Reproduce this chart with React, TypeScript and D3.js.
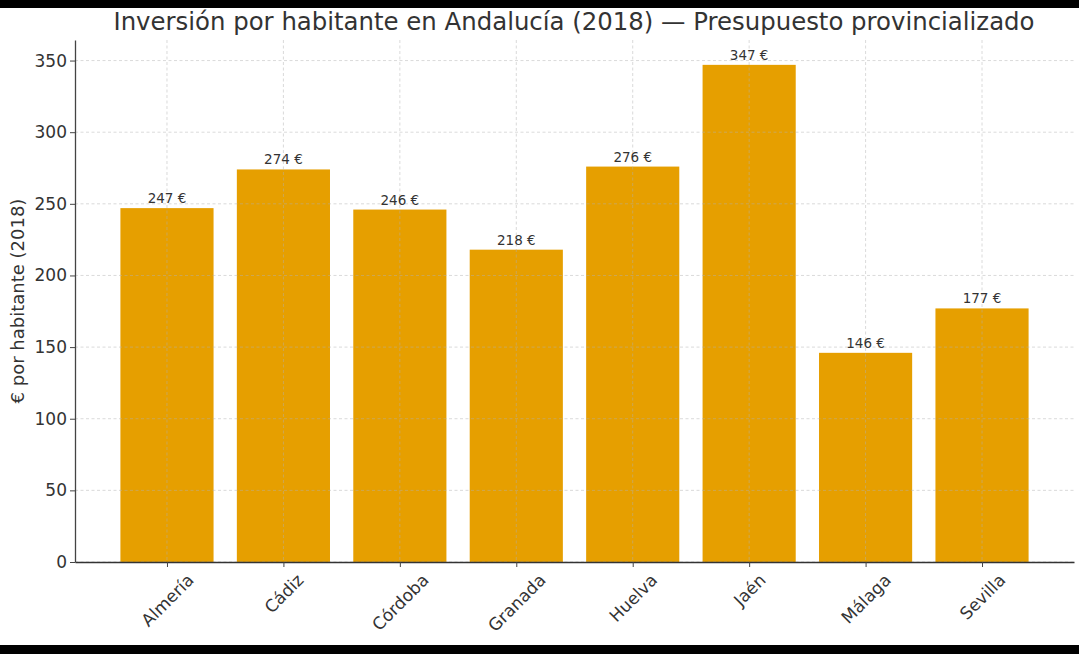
import React, { useEffect, useRef } from 'react'
import * as d3 from 'd3'

const provincias = ['Almería', 'Cádiz', 'Córdoba', 'Granada', 'Huelva', 'Jaén', 'Málaga', 'Sevilla']
const inversion = [247, 274, 246, 218, 276, 347, 146, 177]
const yTicks = [0, 50, 100, 150, 200, 250, 300, 350]

const titulo = 'Inversión por habitante en Andalucía (2018) — Presupuesto provincializado'
const etiquetaY = '€ por habitante (2018)'

const App = () => {
	const ref = useRef<SVGSVGElement>(null)

	const width = 1079
	const height = 654
	const marginTop = 40
	const marginRight = 5
	const marginBottom = 92
	const marginLeft = 75
	const font = 'DejaVu Sans, sans-serif'
	const barColor = '#e69f00'
	const textColor = '#333333'

	useEffect(() => {
		if (!ref.current) return
		const svg = d3.select(ref.current)
		svg.selectAll('*').remove()

		svg.append('rect').attr('width', width).attr('height', height).attr('fill', '#fff')
		svg.append('rect').attr('width', width).attr('height', 8).attr('fill', '#000')
		svg.append('rect').attr('y', 645).attr('width', width).attr('height', height - 645).attr('fill', '#000')

		const idx = provincias.map((_, i) => i)
		// matplotlib style: bars of width 0.8 with 5% margins
		const x = d3
			.scaleLinear()
			.domain([-0.79, provincias.length - 1 + 0.79])
			.range([marginLeft, width - marginRight])
		const y = d3
			.scaleLinear()
			.domain([0, d3.max(inversion) * 1.05])
			.range([height - marginBottom, marginTop])

		const bw = x(0.4) - x(-0.4)

		// barras
		svg
			.append('g')
			.selectAll('rect')
			.data(idx)
			.join('rect')
			.attr('x', i => x(i) - bw / 2)
			.attr('y', i => y(inversion[i]))
			.attr('width', bw)
			.attr('height', i => y(0) - y(inversion[i]))
			.attr('fill', barColor)

		// rejilla (por encima de las barras)
		const grid = svg.append('g').attr('stroke', '#b0b0b0').attr('stroke-opacity', 0.6).attr('stroke-dasharray', '3,2.5').attr('stroke-width', 0.8)
		grid
			.selectAll('line.h')
			.data(yTicks)
			.join('line')
			.attr('class', 'h')
			.attr('x1', marginLeft)
			.attr('x2', width - marginRight)
			.attr('y1', d => y(d))
			.attr('y2', d => y(d))
		grid
			.selectAll('line.v')
			.data(idx)
			.join('line')
			.attr('class', 'v')
			.attr('x1', i => x(i))
			.attr('x2', i => x(i))
			.attr('y1', marginTop)
			.attr('y2', height - marginBottom)

		// etiquetas de valor
		svg
			.append('g')
			.selectAll('text')
			.data(idx)
			.join('text')
			.attr('x', i => x(i))
			.attr('y', i => y(inversion[i]) - 5)
			.attr('text-anchor', 'middle')
			.attr('font-family', font)
			.attr('font-size', 13.5)
			.attr('fill', textColor)
			.text(i => `${inversion[i]} €`)

		// eje y
		const yAxis = svg
			.append('g')
			.attr('transform', `translate(${marginLeft},0)`)
			.call(d3.axisLeft(y).tickValues(yTicks).tickSize(5).tickPadding(3).tickSizeOuter(0))
		yAxis.select('.domain').attr('stroke', '#444').attr('stroke-width', 1.3)
		yAxis.selectAll('.tick line').attr('stroke', '#444').attr('stroke-width', 1)
		yAxis.selectAll('.tick text').attr('font-family', font).attr('font-size', 17).attr('fill', textColor)

		// eje x
		const xAxis = svg
			.append('g')
			.attr('transform', `translate(0,${height - marginBottom})`)
			.call(
				d3
					.axisBottom(x)
					.tickValues(idx)
					.tickFormat(i => provincias[i])
					.tickSize(5)
					.tickSizeOuter(0)
			)
		xAxis.select('.domain').attr('stroke', '#333').attr('stroke-width', 1.3)
		xAxis.selectAll('.tick line').attr('stroke', '#444').attr('stroke-width', 1)
		xAxis
			.selectAll('.tick text')
			.attr('font-family', font)
			.attr('font-size', 17)
			.attr('fill', textColor)
			.attr('text-anchor', 'middle')
			.attr('dominant-baseline', 'central')
			.attr('dy', null)
			.attr('y', 0)
			.each(function () {
				const t = this as SVGTextElement
				const w = t.getComputedTextLength()
				const h = 17 * 1.16
				const half = ((w + h) * Math.SQRT1_2) / 2
				d3.select(t).attr('transform', `translate(0,${8 + half}) rotate(-45)`)
			})

		// título
		svg
			.append('text')
			.attr('x', 574)
			.attr('y', 30)
			.attr('text-anchor', 'middle')
			.attr('font-family', font)
			.attr('font-size', 24.4)
			.attr('fill', textColor)
			.text(titulo)

		// etiqueta eje y
		svg
			.append('text')
			.attr('transform', `translate(24,${(marginTop + height - marginBottom) / 2}) rotate(-90)`)
			.attr('text-anchor', 'middle')
			.attr('font-family', font)
			.attr('font-size', 18)
			.attr('fill', textColor)
			.text(etiquetaY)
	}, [])

	return (
		<svg
			ref={ref}
			width={width}
			height={height}
			style={{ position: 'absolute', left: 0, top: 0 }}
		></svg>
	)
}

export default App
